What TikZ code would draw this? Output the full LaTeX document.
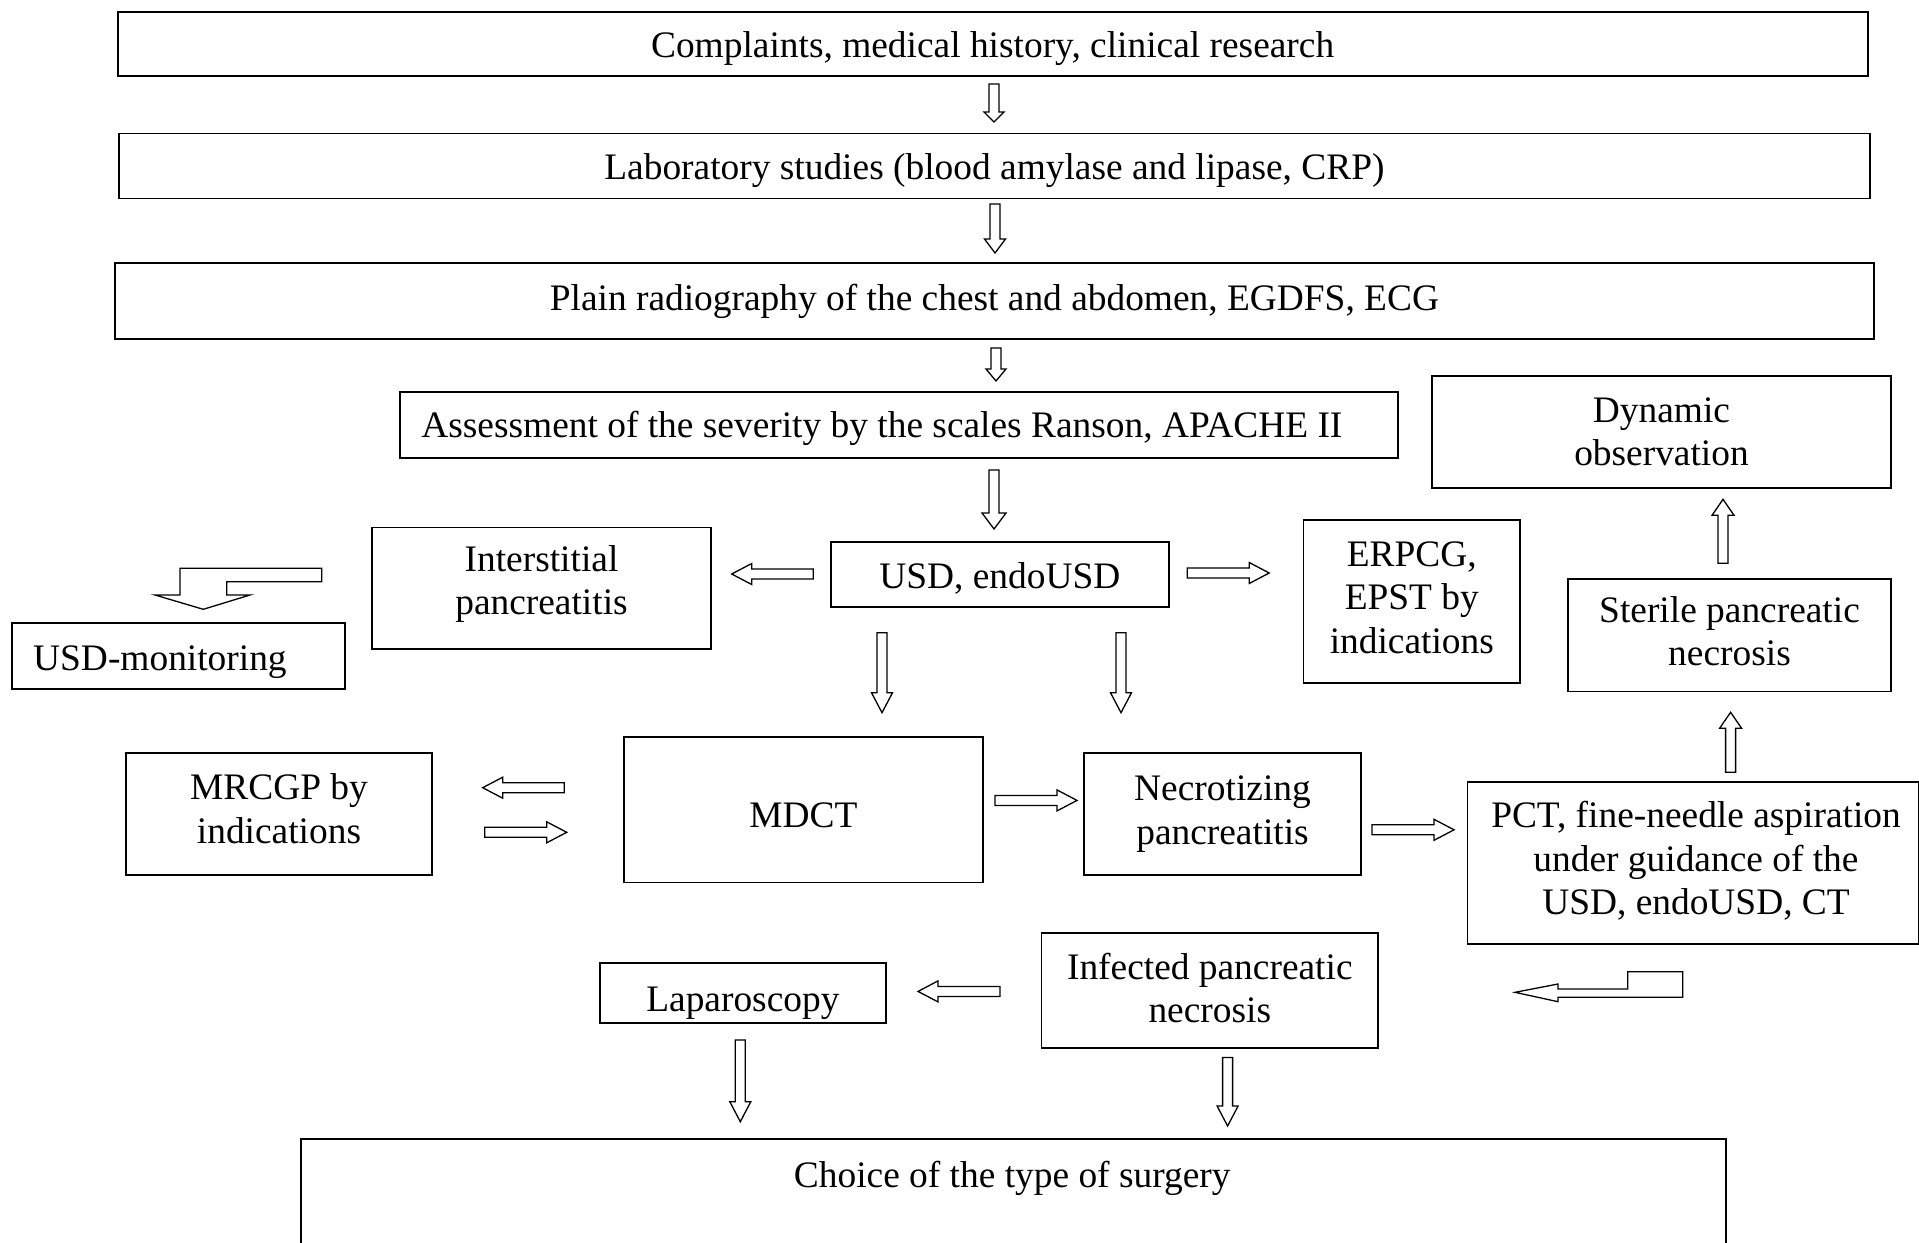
\documentclass[tikz,border=0pt]{standalone}
\usepackage{fontspec}
\setmainfont{Liberation Serif}
\begin{document}
\begin{tikzpicture}[x=1pt,y=-1pt,
 box/.style={draw, line width=1.8pt, inner sep=0pt},
 txt/.style={inner sep=0pt, align=center, font=\fontsize{37.4}{43.5}\selectfont},
 arr/.style={draw, line width=1.3pt, line join=miter, fill=white},
 pics/barrow/.style n args={3}{code={\draw[arr] (0,-5) -- ({#1-#2},-5) -- ({#1-#2},-#3) -- (#1,0) -- ({#1-#2},#3) -- ({#1-#2},5) -- (0,5) -- cycle;}}
]
\clip (0,0) rectangle (1919,1242);
\fill[white] (0,0) rectangle (1919,1242);

% boxes
\node[box, minimum width=1750pt, minimum height=63.7pt] (b1) at (992.6,44) {};
\node[txt] (b1t) at ([yshift=-5pt]b1.center) {Complaints, medical history, clinical research};
\node[box, minimum width=1751.3pt, minimum height=65pt] (b2) at (994.4,165.9) {};
\node[txt] (b2t) at ([yshift=-5pt]b2.center) {Laboratory studies (blood amylase and lipase, CRP)};
\node[box, minimum width=1758.8pt, minimum height=76pt] (b3) at (994.4,301) {};
\node[txt] (b3t) at (b3.center) {Plain radiography of the chest and abdomen, EGDFS, ECG};
\node[box, minimum width=997.7pt, minimum height=66pt] (assess) at (898.9,424.7) {};
\node[txt] (assesst) at ([xshift=-17pt,yshift=-4pt]assess.center) {Assessment of the severity by the scales Ranson, APACHE II};
\node[box, minimum width=459pt, minimum height=112.6pt] (dyn) at (1661.5,432) {};
\node[txt] (dynt) at (dyn.center) {Dynamic\\observation};
\node[box, minimum width=339pt, minimum height=121.2pt] (inter) at (541.5,588.1) {};
\node[txt] (intert) at ([yshift=4pt]inter.center) {Interstitial\\pancreatitis};
\node[box, minimum width=337.8pt, minimum height=65pt] (usd) at (999.9,574.5) {};
\node[txt] (usdt) at ([yshift=-4pt]usd.center) {USD, endoUSD};
\node[box, minimum width=216.5pt, minimum height=163pt] (erpcg) at (1411.8,601.5) {};
\node[txt] (erpcgt) at ([yshift=4pt]erpcg.center) {ERPCG,\\EPST by\\indications};
\node[box, minimum width=323pt, minimum height=112.5pt] (sterile) at (1729.5,635.3) {};
\node[txt] (sterilet) at ([yshift=4pt]sterile.center) {Sterile pancreatic\\necrosis};
\node[box, minimum width=332.8pt, minimum height=66pt] (usdmon) at (178.6,656) {};
\node[txt, anchor=west] (usdmont) at (33,662) {USD-monitoring};
\node[box, minimum width=306pt, minimum height=122.3pt] (mrcgp) at (279,813.9) {};
\node[txt] (mrcgpt) at ([yshift=5pt]mrcgp.center) {MRCGP by\\indications};
\node[box, minimum width=358.8pt, minimum height=145.6pt] (mdct) at (803.4,809.6) {};
\node[txt] (mdctt) at ([yshift=-6pt]mdct.center) {MDCT};
\node[box, minimum width=277pt, minimum height=122.3pt] (necro) at (1222.5,813.9) {};
\node[txt] (necrot) at (necro.center) {Necrotizing\\pancreatitis};
\node[box, minimum width=451pt, minimum height=162.3pt] (pct) at (1693,862.9) {};
\node[txt] (pctt) at ([xshift=3pt,yshift=2pt]pct.center) {PCT, fine-needle aspiration\\under guidance of the\\USD, endoUSD, CT};
\node[box, minimum width=336.5pt, minimum height=115.1pt] (infect) at (1209.8,990.2) {};
\node[txt] (infectt) at ([yshift=2pt]infect.center) {Infected pancreatic\\necrosis};
\node[box, minimum width=286.3pt, minimum height=60pt] (lap) at (742.9,993) {};
\node[txt] (lapt) at ([yshift=-10pt]lap.center) {Laparoscopy};
\node[box, minimum width=1424.7pt, minimum height=140pt, anchor=north] (choice) at (1013.4,1138) {};
\node[txt] (choicet) at (1012.2,1178.7) {Choice of the type of surgery};

% straight block arrows
\pic[rotate=-90] at (994,84) {barrow={38}{10}{10}};
\pic[rotate=-90] at (995,204) {barrow={49}{14}{10.5}};
\pic[rotate=-90] at (996,348) {barrow={33}{12}{10}};
\pic[rotate=-90] at (994,470) {barrow={59}{16}{12}};
\pic[rotate=180] at (813.3,574) {barrow={81.6}{20}{10.5}};
\pic at (1187.2,573) {barrow={82}{20}{10.5}};
\pic[rotate=-90] at (882,632.7) {barrow={80}{20}{10.5}};
\pic[rotate=-90] at (1121,632.7) {barrow={80}{20}{10.5}};
\pic[rotate=180] at (564.3,787.7) {barrow={81.6}{20}{10.5}};
\pic at (484.7,832.3) {barrow={82}{20}{10.5}};
\pic at (995,800.4) {barrow={82}{20}{10.5}};
\pic at (1372,829.8) {barrow={82}{20}{10.5}};
\pic[rotate=90] at (1730.6,772.3) {barrow={60}{16}{11}};
\pic[rotate=90] at (1723,563.3) {barrow={64}{16}{11}};
\pic[rotate=180] at (1000,991.4) {barrow={82}{20}{10.5}};
\pic[rotate=-90] at (740.3,1040) {barrow={81.7}{20}{10.5}};
\pic[rotate=-90] at (1227.6,1057.4) {barrow={68.6}{20}{10.5}};

% elbow block arrows
\draw[arr] (180,568.3) -- (321.7,568.3) -- (321.7,581.7) -- (226.7,581.7) -- (226.7,595) -- (250,595) -- (203.3,609.3) -- (155,595) -- (180,595) -- cycle;
\draw[arr] (1515,992.3) -- (1558,984) -- (1558,989) -- (1627.7,989) -- (1627.7,971.7) -- (1682.7,971.7) -- (1682.7,997.3) -- (1558,997.3) -- (1558,1001.7) -- cycle;
\end{tikzpicture}
\end{document}
